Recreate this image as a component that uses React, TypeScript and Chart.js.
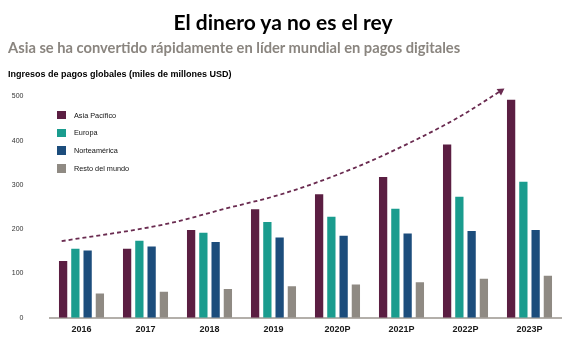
import React, { useEffect, useRef } from "react";
import { Chart, registerables } from "chart.js";

Chart.register(...registerables);

const categories = ["2016", "2017", "2018", "2019", "2020P", "2021P", "2022P", "2023P"];
const asiaPacifico = [128, 156, 198, 245, 279, 318, 391, 492];
const europa = [156, 174, 192, 216, 228, 246, 273, 307];
const norteamerica = [152, 161, 171, 181, 185, 190, 196, 198];
const restoMundo = [55, 59, 65, 71, 75, 80, 88, 95];
const trendX = [-0.31, 1.3, 2.24, 3.17, 4.26, 5.2, 5.92, 6.55];
const trendY = [173, 211, 246, 281, 338, 400, 455, 512];
const yTicks = [0, 100, 200, 300, 400, 500];

const seriesNames = ["Asia Pacífico", "Europa", "Norteamérica", "Resto del mundo"];
const colors = ["#5b1e42", "#1a9c8e", "#1c4d7c", "#8f8a83"];
const trendColor = "#6a2b50";

export default function App() {
  const ref = useRef<HTMLCanvasElement | null>(null);

  useEffect(() => {
    if (!ref.current) return;
    const seriesData = [asiaPacifico, europa, norteamerica, restoMundo];
    const barSets: any[] = seriesNames.map((name, i) => ({
      type: "bar",
      label: name,
      data: seriesData[i],
      backgroundColor: colors[i],
      borderWidth: 0,
      categoryPercentage: 0.766,
      barPercentage: 0.675,
      order: 2,
    }));
    const trendSet: any = {
      type: "line",
      label: "trend",
      parsing: false,
      data: trendX.map((x, i) => ({ x, y: trendY[i] })),
      borderColor: trendColor,
      backgroundColor: trendColor,
      borderWidth: 1.8,
      borderDash: [4, 3],
      cubicInterpolationMode: "monotone",
      clip: false,
      fill: false,
      pointStyle: "triangle",
      pointRadius: (ctx: any) => (ctx.dataIndex === trendX.length - 1 ? 4.5 : 0),
      pointRotation: 56,
      pointBorderWidth: 0,
      order: 1,
    };
    const chart = new Chart(ref.current, {
      type: "bar",
      data: { labels: categories, datasets: [...barSets, trendSet] },
      options: {
        animation: false,
        responsive: false,
        maintainAspectRatio: false,
        layout: { padding: { top: 85.2, right: 3, left: 0, bottom: 0 } },
        plugins: { legend: { display: false }, tooltip: { enabled: false }, title: { display: false } },
        scales: {
          x: {
            type: "category",
            grid: { display: false, drawTicks: false },
            border: { display: true, color: "#b3afaa", width: 2 },
            ticks: {
              color: "#1a1a1a",
              font: { family: "'Liberation Sans', Arial, sans-serif", size: 9, weight: "bold" },
              padding: 6,
              maxRotation: 0,
              autoSkip: false,
            },
            afterFit: (s: any) => {
              s.height = 24.5;
            },
          },
          y: {
            min: 0,
            max: 525,
            grid: { display: false, drawTicks: false },
            border: { display: false },
            afterBuildTicks: (s: any) => {
              s.ticks = yTicks.map((v) => ({ value: v }));
            },
            ticks: {
              color: "#333333",
              font: { family: "'Liberation Sans', Arial, sans-serif", size: 7 },
              padding: 26,
            },
            afterFit: (s: any) => {
              s.width = 49.5;
            },
          },
        },
      } as any,
    });
    return () => chart.destroy();
  }, []);

  const legendTop = [115, 132.8, 150.6, 168.4];

  return (
    <div
      style={{
        position: "fixed",
        left: 0,
        top: 0,
        width: 566,
        height: 348,
        background: "#ffffff",
        overflow: "hidden",
      }}
    >
      <canvas ref={ref} width={566} height={348} style={{ position: "absolute", left: 0, top: 0, width: 566, height: 348 }} />
      <div
        style={{
          position: "absolute",
          left: 0,
          width: 566,
          top: 8,
          textAlign: "center",
          fontFamily: "Lato, sans-serif",
          fontWeight: 700,
          fontSize: 21,
          lineHeight: "28px",
          color: "#000",
        }}
      >
        El dinero ya no es el rey
      </div>
      <div
        style={{
          position: "absolute",
          left: 8,
          top: 37,
          fontFamily: "Lato, sans-serif",
          fontWeight: 700,
          fontSize: 14.7,
          lineHeight: "20px",
          color: "#8a857f",
          whiteSpace: "nowrap",
        }}
      >
        Asia se ha convertido rápidamente en líder mundial en pagos digitales
      </div>
      <div
        style={{
          position: "absolute",
          left: 8,
          top: 68,
          fontFamily: "'Liberation Sans', Arial, sans-serif",
          fontWeight: 700,
          fontSize: 9,
          lineHeight: "12px",
          color: "#000",
          whiteSpace: "nowrap",
        }}
      >
        Ingresos de pagos globales (miles de millones USD)
      </div>
      {seriesNames.map((name, i) => (
        <div
          key={name}
          style={{
            position: "absolute",
            left: 57,
            top: legendTop[i] - 6,
            height: 12,
            display: "flex",
            alignItems: "center",
            whiteSpace: "nowrap",
          }}
        >
          <div style={{ width: 8.5, height: 8.5, background: colors[i], marginRight: 8.5 }} />
          <span
            style={{
              fontFamily: "'Liberation Sans', Arial, sans-serif",
              fontSize: 7.3,
              color: "#111",
            }}
          >
            {name}
          </span>
        </div>
      ))}
    </div>
  );
}
